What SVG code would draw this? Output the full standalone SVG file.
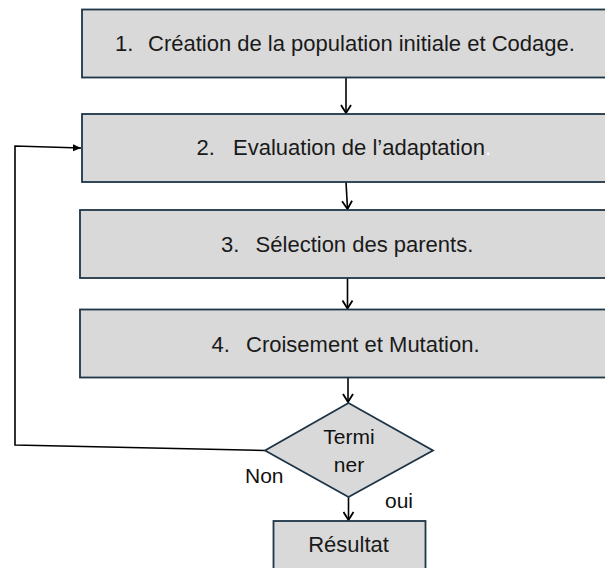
<svg xmlns="http://www.w3.org/2000/svg" width="605" height="568" viewBox="0 0 605 568">
<defs>
<style>
.box{fill:#d9d9d9;stroke:#1d3547;stroke-width:1.8}
.t{font-family:"Liberation Sans",Arial,sans-serif;font-size:22px;fill:#1a1a1a}
.lbl{font-family:"Liberation Sans",Arial,sans-serif;font-size:21px;fill:#111}
.c{fill:none;stroke:#000;stroke-width:1.6}
</style>
<marker id="v" viewBox="0 0 12 12" refX="11" refY="6" markerWidth="12" markerHeight="12" markerUnits="userSpaceOnUse" orient="auto">
<path d="M3,1 L11,6 L3,11" fill="none" stroke="#000" stroke-width="1.8"/>
</marker>
<marker id="f" viewBox="0 0 10 10" refX="9" refY="5" markerWidth="9" markerHeight="9" markerUnits="userSpaceOnUse" orient="auto">
<path d="M0,1 L9,5 L0,9 z" fill="#000"/>
</marker>
</defs>
<rect width="605" height="568" fill="#fff"/>
<g id="connectors">
<line class="c" x1="346" y1="78" x2="346" y2="113" marker-end="url(#v)"/>
<line class="c" x1="346" y1="182" x2="347.5" y2="209" marker-end="url(#v)"/>
<line class="c" x1="347.5" y1="278" x2="347.5" y2="308.5" marker-end="url(#v)"/>
<line class="c" x1="348" y1="378" x2="348" y2="402" marker-end="url(#v)"/>
<line class="c" x1="348.5" y1="497" x2="348.5" y2="520" marker-end="url(#v)"/>
<polyline class="c" points="265,450.5 15,445 15,146 81,148" marker-end="url(#f)"/>
<text class="lbl" x="245" y="483">Non</text>
<text class="lbl" x="385" y="507.5">oui</text>
</g>
<g id="n1">
<rect class="box" x="82" y="9.5" width="540" height="68"/>
<text class="t" y="51"><tspan x="115">1.</tspan><tspan x="148">Création de la population initiale et Codage.</tspan></text>
</g>
<g id="n2">
<rect class="box" x="82" y="114" width="540" height="68"/>
<text class="t" y="155"><tspan x="196.5">2.</tspan><tspan x="233">Evaluation de l’adaptation</tspan><tspan fill="#ffffff">.</tspan></text>
</g>
<g id="n3">
<rect class="box" x="80" y="210" width="540" height="68"/>
<text class="t" y="251.5"><tspan x="221">3.</tspan><tspan x="255.6">Sélection des parents.</tspan></text>
</g>
<g id="n4">
<rect class="box" x="80" y="309.5" width="540" height="68"/>
<text class="t" y="351.5"><tspan x="211.6">4.</tspan><tspan x="246">Croisement et Mutation.</tspan></text>
</g>
<g id="n5">
<polygon class="box" points="348.5,403 433,450.5 348.5,497 265,450.5"/>
<text class="lbl" x="349" y="444" text-anchor="middle" fill="#1a1a1a">Termi</text>
<text class="lbl" x="349" y="472" text-anchor="middle" fill="#1a1a1a">ner</text>
</g>
<g id="n6">
<rect class="box" x="273.5" y="521" width="152" height="70"/>
<text class="t" x="348.5" y="552" text-anchor="middle">Résultat</text>
</g>
</svg>
